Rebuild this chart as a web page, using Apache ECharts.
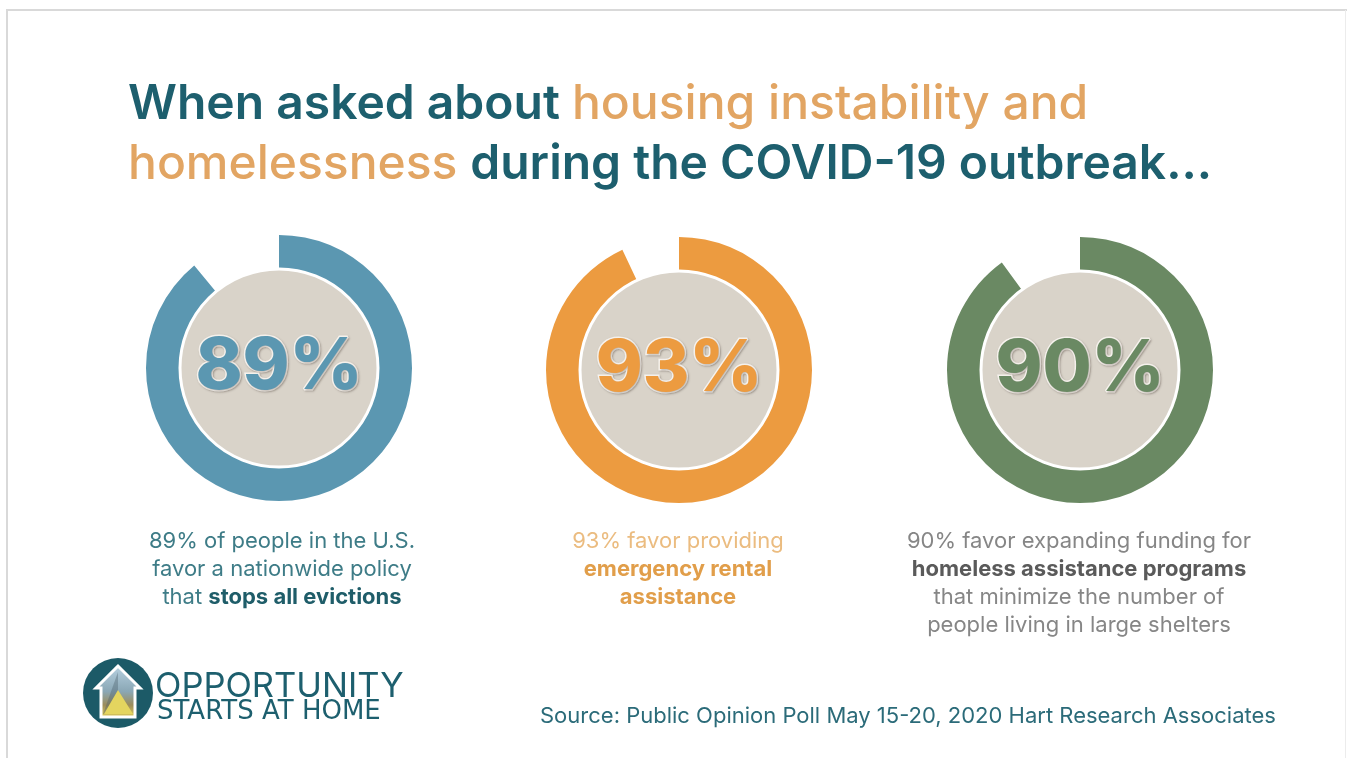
<!DOCTYPE html>
<html>
<head>
<meta charset="utf-8">
<script src="https://cdn.jsdelivr.net/npm/echarts@6/dist/echarts.min.js"></script>
<style>
html,body{margin:0;padding:0;background:#fff;}
#chart{width:1347px;height:758px;}
</style>
</head>
<body>
<div id="chart"></div>
<script>
// ---- data ----
const categories = ['Stop all evictions', 'Emergency rental assistance', 'Homeless assistance programs'];
const percents = [89, 93, 90];
const ringColors = ['#5b97b1', '#ec9b40', '#6a8963'];
const titleLine1 = [['When asked about ', 'a'], ['housing instability and', 'b']];
const titleLine2 = [['homelessness ', 'b'], ['during the COVID-19 outbreak...', 'a']];
const desc1 = [[['89% of people in the U.S.', 'n']], [['favor a nationwide policy', 'n']], [['that ', 'n'], ['stops all evictions', 'b']]];
const desc2 = [[['93% favor providing', 'n']], [['emergency rental', 'b']], [['assistance', 'b']]];
const desc3 = [[['90% favor expanding funding for', 'n']], [['homeless assistance programs', 'b']], [['that minimize the number of', 'n']], [['people living in large shelters', 'n']]];
const sourceText = 'Source: Public Opinion Poll May 15-20, 2020 Hart Research Associates';
const logoLine1 = 'OPPORTUNITY';
const logoLine2 = 'STARTS AT HOME';

// ---- layout ----
const centers = [[279, 368], [679, 370], [1080, 370]];
const chart = echarts.init(document.getElementById('chart'));

const series = [];
percents.forEach((p, i) => {
  series.push({
    type: 'pie', silent: true, z: 2,
    center: centers[i], radius: [97, 133],
    startAngle: 90, clockwise: true, animation: false,
    labelLine: { show: false },
    data: [
      { name: categories[i], value: p, itemStyle: { color: ringColors[i] },
        label: { show: false } },
      { name: 'rest', value: 100 - p, itemStyle: { color: 'rgba(0,0,0,0)' }, label: { show: false } }
    ]
  });
  series.push({
    type: 'pie', silent: true, z: 3,
    center: centers[i], radius: [0, 99],
    animation: false,
    labelLine: { show: false },
    itemStyle: { color: '#d9d3c9', borderColor: '#ffffff', borderWidth: 3 },
    label: {
      show: true, position: 'center',
      formatter: () => p + '%',
      fontFamily: 'Inter', fontWeight: 800, fontSize: 71,
      color: ringColors[i],
      textBorderColor: '#f7f3ee', textBorderWidth: 3,
      textShadowColor: 'rgba(80,70,60,0.35)', textShadowBlur: 2, textShadowOffsetX: 1, textShadowOffsetY: 1
    },
    data: [{ name: categories[i], value: 1 }]
  });
});

function richLine(parts) {
  return parts.map(([t, s]) => '{' + s + '|' + t.replace(/[{}|]/g, '') + '}').join('');
}

const titleRich = {
  a: { fontFamily: 'Inter', fontWeight: 600, fontSize: 48, fill: '#1d5f6e', color: '#1d5f6e' },
  b: { fontFamily: 'Inter', fontWeight: 500, fontSize: 48, fill: '#e2a563', color: '#e2a563' }
};

function descBlock(lines, cx, y0, nColor, bColor) {
  return lines.map((parts, k) => ({
    type: 'text', x: cx, y: y0 + k * 28, silent: true,
    style: {
      text: richLine(parts), align: 'center', verticalAlign: 'middle',
      rich: {
        n: { fontFamily: 'Inter', fontWeight: 400, fontSize: 22, fill: nColor, color: nColor },
        b: { fontFamily: 'Inter', fontWeight: 700, fontSize: 22, fill: bColor, color: bColor }
      }
    }
  }));
}

const graphic = [
  { type: 'line', silent: true, shape: { x1: 6, y1: 10, x2: 1347, y2: 10 }, style: { stroke: '#d9d9d9', lineWidth: 2 } },
  { type: 'line', silent: true, shape: { x1: 7, y1: 9, x2: 7, y2: 758 }, style: { stroke: '#d9d9d9', lineWidth: 2 } },
  { type: 'line', silent: true, shape: { x1: 1345.5, y1: 10, x2: 1345.5, y2: 758 }, style: { stroke: '#ececec', lineWidth: 1 } },
  { type: 'text', x: 128, y: 105, silent: true, style: { text: richLine(titleLine1), verticalAlign: 'middle', rich: titleRich } },
  { type: 'text', x: 128, y: 165, silent: true, style: { text: richLine(titleLine2), verticalAlign: 'middle', rich: titleRich } },
  ...descBlock(desc1, 282, 541, '#3e7c87', '#1f5d69'),
  ...descBlock(desc2, 678, 541, '#ebbc80', '#e19e4a'),
  ...descBlock(desc3, 1079, 541, '#868686', '#5a5a5a'),
  // logo
  { type: 'circle', silent: true, shape: { cx: 118, cy: 693, r: 35 }, style: { fill: '#1c5a67' } },
  { type: 'polygon', silent: true,
    shape: { points: [[118, 666], [96, 688], [101, 688], [101, 717], [135, 717], [135, 688], [140, 688]] },
    style: {
      fill: new echarts.graphic.LinearGradient(0, 0, 0, 1, [
        { offset: 0, color: '#b9d3e3' }, { offset: 0.5, color: '#8aa7b5' }, { offset: 0.75, color: '#9c8c5a' }, { offset: 1, color: '#e6d35a' }
      ]),
      stroke: '#ffffff', lineWidth: 3, lineJoin: 'miter'
    } },
  { type: 'polygon', silent: true,
    shape: { points: [[118, 672], [118, 714], [103, 714]] },
    style: { fill: 'rgba(70,90,100,0.35)' } },
  { type: 'polygon', silent: true,
    shape: { points: [[118, 690], [133, 714], [104, 714]] },
    style: { fill: '#e4d55f' } },
  { type: 'text', x: 155, y: 687, silent: true,
    style: { text: logoLine1, fontFamily: 'Inter', fontWeight: 400, fontSize: 34.5, fill: '#1d5f6e', verticalAlign: 'middle' } },
  { type: 'text', x: 157, y: 712, silent: true,
    style: { text: logoLine2, fontFamily: 'DejaVu Sans', fontWeight: 400, fontSize: 26, fill: '#1d5f6e', verticalAlign: 'middle' } },
  { type: 'text', x: 540, y: 716, silent: true,
    style: { text: sourceText, fontFamily: 'Inter', fontWeight: 400, fontSize: 22, fill: '#2b6b79', verticalAlign: 'middle' } }
];

chart.setOption({
  backgroundColor: '#ffffff',
  animation: false,
  series: series,
  graphic: graphic
});
</script>
</body>
</html>
